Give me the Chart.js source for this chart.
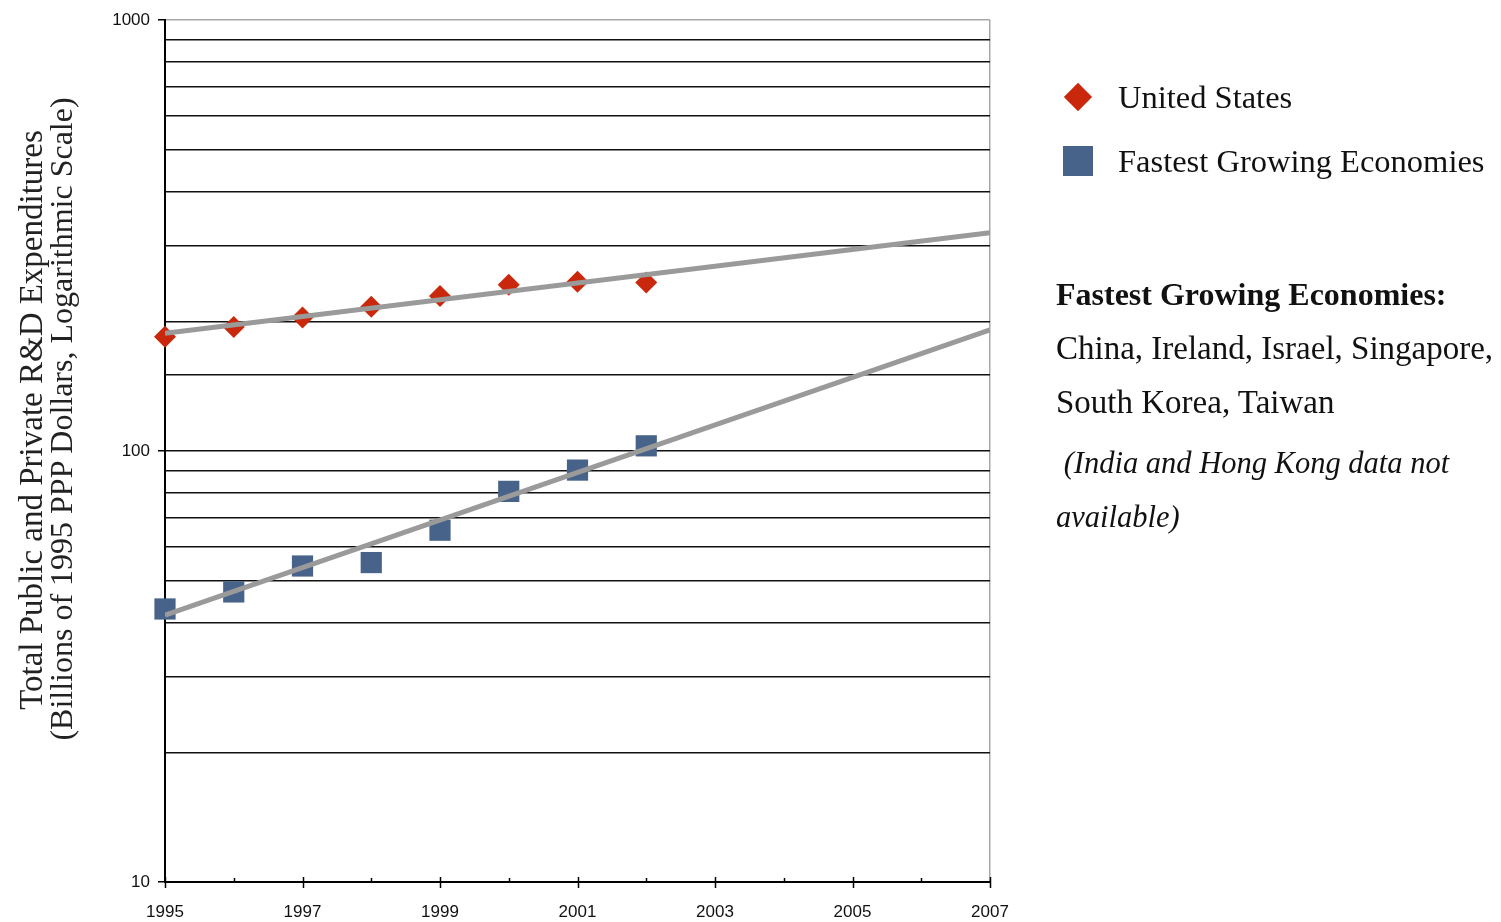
<!DOCTYPE html>
<html>
<head>
<meta charset="utf-8">
<script src="https://cdn.jsdelivr.net/npm/chart.js@4.4.1/dist/chart.umd.min.js"></script>
<style>
  html, body { margin: 0; padding: 0; background: #fff; overflow: hidden; }
  #wrap { position: relative; width: 1501px; height: 922px; }
  canvas { position: absolute; left: 0; top: 0; }
  .t { position: absolute; white-space: nowrap; font-family: "Liberation Serif", "Times New Roman", serif; color: #111; }
  .rot { transform: translate(-50%, -50%) rotate(-90deg); line-height: 30px; color: #222; }
  .leg { font-size: 32.5px; line-height: 40px; }
  .pan { font-size: 33px; line-height: 40px; }
  .diamond { position: absolute; width: 20px; height: 20px; background: #C9280C; transform: translate(-50%, -50%) rotate(45deg); }
  .square { position: absolute; width: 30px; height: 30px; background: #48638A; transform: translate(-50%, -50%); }
</style>
</head>
<body>
<div id="wrap">
  <canvas id="c" width="1501" height="922"></canvas>
  <div class="t rot" style="left:31px; top:420px; font-size:33px;">Total Public and Private R&amp;D Expenditures</div>
  <div class="t rot" style="left:61px; top:419px; font-size:32px;">(Billions of 1995 PPP Dollars, Logarithmic Scale)</div>

  <div class="diamond" style="left:1078px; top:97px;"></div>
  <div class="t leg" style="left:1118px; top:77px;">United States</div>
  <div class="square" style="left:1078px; top:161px;"></div>
  <div class="t leg" style="left:1118px; top:141px;">Fastest Growing Economies</div>

  <div class="t pan" style="left:1056px; top:274px; font-weight:bold; font-size:32px;">Fastest Growing Economies:</div>
  <div class="t pan" style="left:1056px; top:328px;">China, Ireland, Israel, Singapore,</div>
  <div class="t pan" style="left:1056px; top:382px;">South Korea, Taiwan</div>
  <div class="t pan" style="left:1056px; top:443px; font-style:italic; font-size:30.5px;">&nbsp;(India and Hong Kong data not</div>
  <div class="t pan" style="left:1056px; top:497px; font-style:italic; font-size:30.5px;">available)</div>
</div>
<script>
// ---- data ----
const years = [1995, 1996, 1997, 1998, 1999, 2000, 2001, 2002];
const usValues = [184, 194, 204, 216, 229, 243, 247, 246];
const fgeValues = [43.0, 47.1, 54.1, 55.1, 65.5, 80.6, 90.3, 102.8];
const trendYears = [1995, 2007];
const usTrend = [187.5, 321];
const fgeTrend = [41.6, 191];
const yTickLabels = [10, 100, 1000];
const xMin = 1995, xMax = 2007;
const yMin = 10, yMax = 1000;

const pts = (xs, ys) => xs.map((x, i) => ({ x: x, y: ys[i] }));

const tickMarks = {
  id: 'tickMarks',
  afterDraw(chart) {
    const xs = chart.scales.x;
    const ctx = chart.ctx;
    const yAxis = chart.chartArea.bottom;
    ctx.save();
    ctx.strokeStyle = '#000';
    ctx.lineWidth = 1.5;
    xs.ticks.forEach(t => {
      const px = Math.round(xs.getPixelForValue(t.value)) + 0.5;
      const odd = t.value % 2 === 1;
      ctx.beginPath();
      if (odd) { ctx.moveTo(px, yAxis - 5); ctx.lineTo(px, yAxis + 6); }
      else { ctx.moveTo(px, yAxis - 4); ctx.lineTo(px, yAxis); }
      ctx.stroke();
    });
    ctx.restore();
  }
};

new Chart(document.getElementById('c'), {
  type: 'scatter',
  data: {
    datasets: [
      { label: 'US trend', type: 'line', data: pts(trendYears, usTrend), borderColor: '#9a9a9a', borderWidth: 5, pointRadius: 0, fill: false, order: 0 },
      { label: 'FGE trend', type: 'line', data: pts(trendYears, fgeTrend), borderColor: '#9a9a9a', borderWidth: 5, pointRadius: 0, fill: false, order: 0 },
      { label: 'United States', data: pts(years, usValues), pointStyle: 'rectRot', pointRadius: 11, pointHoverRadius: 11, backgroundColor: '#C9280C', borderColor: '#C9280C', borderWidth: 0, order: 1, clip: false },
      { label: 'Fastest Growing Economies', data: pts(years, fgeValues), pointStyle: 'rect', pointRadius: 15, pointHoverRadius: 15, backgroundColor: '#48638A', borderColor: '#48638A', borderWidth: 0, order: 1, clip: false }
    ]
  },
  options: {
    responsive: false,
    animation: false,
    events: [],
    layout: { padding: { left: 0, right: 511, top: 20, bottom: 0 } },
    plugins: { legend: { display: false }, tooltip: { enabled: false } },
    scales: {
      x: {
        type: 'linear', min: xMin, max: xMax,
        afterFit: s => { s.height = 40; },
        border: { color: '#000', width: 2 },
        grid: {
          drawTicks: false,
          color: c => (c.tick && c.tick.value === xMax) ? '#a8a8a8' : 'rgba(0,0,0,0)',
          lineWidth: 1.5
        },
        ticks: {
          stepSize: 1, autoSkip: false, maxRotation: 0, padding: 20,
          color: '#111',
          font: { family: '"Liberation Sans", Arial, sans-serif', size: 17 },
          callback: v => (v % 2 === 1 ? String(v) : '')
        }
      },
      y: {
        type: 'logarithmic', min: yMin, max: yMax,
        afterFit: s => { s.width = 165; },
        border: { color: '#000', width: 2 },
        grid: {
          drawTicks: true, tickLength: 7,
          color: c => {
            const v = c.tick && c.tick.value;
            if (v === yMax) return '#a8a8a8';
            if (v === yMin) return 'rgba(0,0,0,0)';
            return '#111';
          },
          tickColor: c => (yTickLabels.includes(c.tick && c.tick.value) ? '#000' : 'rgba(0,0,0,0)'),
          lineWidth: 1.5
        },
        ticks: {
          autoSkip: false, padding: 8, color: '#111',
          font: { family: '"Liberation Sans", Arial, sans-serif', size: 17 },
          callback: v => (yTickLabels.includes(v) ? String(v) : '')
        }
      }
    }
  },
  plugins: [tickMarks]
});
</script>
</body>
</html>
